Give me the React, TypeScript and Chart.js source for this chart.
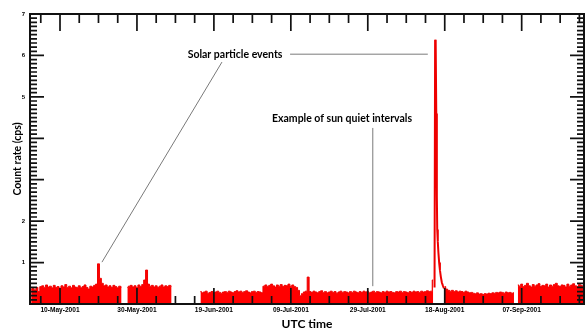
import React, { useEffect, useRef } from 'react';
import { Chart, registerables } from 'chart.js';

Chart.register(...registerables);

// ---- axis data (x = days since 10-May-2001) ----
const X_MIN = -7.8;
const X_MAX = 136.2;
const xTickDays = [0, 20, 40, 60, 80, 100, 120];
const xTickLabels = ['10-May-2001', '30-May-2001', '19-Jun-2001', '09-Jul-2001', '29-Jul-2001', '18-Aug-2001', '07-Sep-2001'];
const yTickLabels = ['', '1', '2', '', '', '5', '6', '7'];

// ---- count-rate series, sampled every half day ----
const SAMPLE_STEP = 0.5;

const segAStart = -7.5;
const segA = [
  0.36, 0.38, 0.34, 0.40, 0.30, 0.42, 0.44, 0.40, 0.46, 0.41,
  0.43, 0.39, 0.45, 0.40, 0.42, 0.38, 0.44, 0.41, 0.47, 0.40,
  0.43, 0.39, 0.45, 0.41, 0.40, 0.44, 0.39, 0.42, 0.46, 0.40,
  0.36, 0.43, 0.41, 0.45, 0.48, 0.97, 0.62, 0.50, 0.44, 0.46,
  0.41, 0.44, 0.40, 0.45, 0.42, 0.39, 0.43, 0.41,
];

const segBStart = 17.5;
const segB = [
  0.40, 0.43, 0.45, 0.41, 0.44, 0.40, 0.46, 0.42, 0.47, 0.58,
  0.82, 0.48, 0.43, 0.45, 0.41, 0.44, 0.40, 0.43, 0.46, 0.41,
  0.44, 0.42, 0.45, 0.43,
];

const segCStart = 36.5;
const segC = [
  0.30, 0.27, 0.29, 0.31, 0.26, 0.28, 0.30, 0.27, 0.29, 0.31,
  0.28, 0.26, 0.29, 0.30, 0.28, 0.31, 0.29, 0.27, 0.30, 0.32,
  0.29, 0.31, 0.28, 0.30, 0.32, 0.29, 0.27, 0.30, 0.31, 0.28,
  0.30, 0.29, 0.27,
];

const segDStart = 53.0;
const segD = [
  0.43, 0.46, 0.42, 0.45, 0.48, 0.44, 0.41, 0.46, 0.43, 0.47,
  0.42, 0.45, 0.44, 0.48, 0.43, 0.46, 0.42, 0.40, 0.33,
];

const segEStart = 62.5;
const segE = [
  0.20, 0.25, 0.29, 0.31, 0.65, 0.30, 0.28, 0.31, 0.29, 0.27,
  0.30, 0.32, 0.28, 0.30, 0.27, 0.29, 0.31, 0.28, 0.30, 0.26,
  0.29, 0.31, 0.28, 0.30, 0.29, 0.27, 0.30, 0.28, 0.31, 0.29,
  0.27, 0.30, 0.28, 0.31, 0.29, 0.30, 0.27, 0.29, 0.31, 0.28,
  0.30, 0.29, 0.27, 0.30, 0.28, 0.31, 0.29, 0.30, 0.28, 0.27,
  0.30, 0.29, 0.31, 0.28, 0.30, 0.29, 0.27, 0.30, 0.28, 0.31,
  0.29, 0.30, 0.28, 0.31, 0.29, 0.30, 0.32, 0.30, 0.31, 0.58,
];

const segFStart = 100.0;
const segF = [
  0.42, 0.36, 0.33, 0.31, 0.33, 0.30, 0.32, 0.29, 0.31, 0.30,
  0.28, 0.31, 0.29, 0.27, 0.28, 0.26, 0.25, 0.27, 0.24, 0.25,
  0.23, 0.25, 0.24, 0.26, 0.25, 0.27, 0.26, 0.28, 0.27, 0.29,
  0.28, 0.26, 0.29, 0.27, 0.28, 0.26, 0.27,
];

const segGStart = 119.0;
const segG = [
  0.46, 0.43, 0.48, 0.42, 0.45, 0.50, 0.44, 0.41, 0.47, 0.43,
  0.46, 0.49, 0.42, 0.45, 0.44, 0.48, 0.41, 0.46, 0.43, 0.47,
  0.50, 0.44, 0.42, 0.46, 0.45, 0.41, 0.48, 0.43, 0.46, 0.49,
  0.44, 0.42, 0.47, 0.45, 0.43, 0.46,
];

// solar particle event of mid-August (finer sampling)
const spikeDays = [97.35, 97.5, 97.65, 97.8, 97.95, 98.05, 98.2, 98.35, 98.55, 98.75, 99.0, 99.25, 99.5, 99.8];
const spikeVals = [0.40, 6.38, 6.30, 4.6, 2.6, 1.8, 1.5, 1.25, 1.0, 0.82, 0.65, 0.52, 0.45, 0.38];

// ---- annotations (in data coordinates) ----
const noteSolar = { text: 'Solar particle events', day: 45.5, value: 6.03 };
const noteSolarLineH = { d1: 59.8, v1: 6.03, d2: 95.6, v2: 6.03 };
const noteSolarLineD = { d1: 42.1, v1: 5.84, d2: 10.9, v2: 1.01 };
const noteQuiet = { text: 'Example of sun quiet intervals', day: 73.3, value: 4.47 };
const noteQuietLine = { d1: 81.3, v1: 4.25, d2: 81.3, v2: 0.43 };

const segments: [number, number[]][] = [
  [segAStart, segA], [segBStart, segB], [segCStart, segC], [segDStart, segD],
  [segEStart, segE], [segFStart, segF], [segGStart, segG],
];

function buildSeries() {
  const pts: { x: number; y: number | null }[] = [];
  let lastX: number | null = null;
  for (const [start, vals] of segments) {
    if (lastX !== null && start - lastX > SAMPLE_STEP * 1.5) {
      pts.push({ x: (lastX + start) / 2, y: null });
    }
    vals.forEach((v, i) => pts.push({ x: start + i * SAMPLE_STEP, y: v }));
    lastX = start + (vals.length - 1) * SAMPLE_STEP;
  }
  return pts;
}

const frameTicksPlugin = {
  id: 'frameTicks',
  afterDatasetsDraw(chart: any) {
    const { ctx, chartArea, scales } = chart;
    const { left, right, top, bottom } = chartArea;
    const x = scales.x;
    const y = scales.y;
    ctx.save();
    ctx.strokeStyle = '#111';
    ctx.lineWidth = 1.7;
    ctx.beginPath();
    for (let k = -2; k <= 28; k++) {
      const px = x.getPixelForValue(k * 5);
      if (px < left + 1 || px > right - 1) continue;
      const major = k % 4 === 0;
      ctx.moveTo(px, bottom);
      ctx.lineTo(px, bottom - (major ? 16 : 8));
      ctx.moveTo(px, top);
      ctx.lineTo(px, top + (major ? 17 : 9));
    }
    for (let k = 0; k <= 70; k++) {
      const py = y.getPixelForValue(k / 10);
      const major = k % 10 === 0;
      ctx.moveTo(left, py);
      ctx.lineTo(left + (major ? 14 : 7), py);
      ctx.moveTo(right, py);
      ctx.lineTo(right - (major ? 14 : 7), py);
    }
    ctx.stroke();
    ctx.lineWidth = 2;
    ctx.strokeRect(left, top, right - left, bottom - top);
    ctx.restore();
  },
};

const annotationPlugin = {
  id: 'notes',
  afterDraw(chart: any) {
    const { ctx, scales } = chart;
    const X = (d: number) => scales.x.getPixelForValue(d);
    const Y = (v: number) => scales.y.getPixelForValue(v);
    ctx.save();
    ctx.strokeStyle = '#7a7a7a';
    ctx.lineWidth = 1;
    ctx.beginPath();
    for (const l of [noteSolarLineH, noteSolarLineD, noteQuietLine]) {
      ctx.moveTo(X(l.d1), Y(l.v1));
      ctx.lineTo(X(l.d2), Y(l.v2));
    }
    ctx.stroke();
    ctx.fillStyle = '#000';
    ctx.font = 'bold 10.5px Lato, "Open Sans", sans-serif';
    ctx.textAlign = 'center';
    ctx.textBaseline = 'middle';
    ctx.fillText(noteSolar.text, X(noteSolar.day), Y(noteSolar.value));
    ctx.fillText(noteQuiet.text, X(noteQuiet.day), Y(noteQuiet.value));
    ctx.restore();
  },
};

export default function App() {
  const ref = useRef<HTMLCanvasElement | null>(null);
  useEffect(() => {
    if (!ref.current) return;
    const chart = new Chart(ref.current, {
      type: 'line',
      data: {
        datasets: [
          {
            data: buildSeries() as any,
            borderColor: '#ee0000',
            backgroundColor: '#ff0000',
            borderWidth: 1,
            pointRadius: 0,
            fill: 'origin',
            stepped: 'middle',
            spanGaps: false,
          },
          {
            data: spikeDays.map((d, i) => ({ x: d, y: spikeVals[i] })) as any,
            borderColor: '#ee0000',
            borderWidth: 2,
            pointRadius: 0,
            fill: false,
            tension: 0,
          },
        ],
      },
      options: {
        responsive: false,
        animation: false,
        layout: { padding: { top: 14, right: 2, left: 0, bottom: 0 } },
        plugins: { legend: { display: false }, tooltip: { enabled: false } },
        scales: {
          x: {
            type: 'linear',
            min: X_MIN,
            max: X_MAX,
            afterFit: (s: any) => { s.height = 25; },
            grid: { display: false, drawTicks: false },
            border: { display: false },
            ticks: {
              stepSize: 20,
              includeBounds: false,
              autoSkip: false,
              maxRotation: 0,
              padding: 2,
              color: '#000',
              font: { family: 'Arial, "Liberation Sans", sans-serif', weight: 'bold', size: 6.6 },
              callback: (v: any) => {
                const i = xTickDays.indexOf(Number(v));
                return i >= 0 ? xTickLabels[i] : '';
              },
            },
            title: {
              display: true,
              text: 'UTC time',
              color: '#000',
              font: { family: 'Lato, "Open Sans", sans-serif', weight: 'bold', size: 12 },
              padding: { top: 0, bottom: -2 },
            },
          },
          y: {
            min: 0,
            max: 7,
            afterFit: (s: any) => { s.width = 30; },
            grid: { display: false, drawTicks: false },
            border: { display: false },
            ticks: {
              stepSize: 1,
              padding: 5,
              color: '#000',
              font: { family: 'Arial, "Liberation Sans", sans-serif', weight: 'bold', size: 6 },
              callback: (v: any) => yTickLabels[Number(v)] ?? '',
            },
            title: {
              display: true,
              text: 'Count rate (cps)',
              color: '#000',
              font: { family: 'Lato, "Open Sans", sans-serif', weight: 'bold', size: 10.5 },
              padding: { top: 11, bottom: 0 },
            },
          },
        },
      },
      plugins: [frameTicksPlugin, annotationPlugin],
    });
    return () => chart.destroy();
  }, []);
  return (
    <div style={{ position: 'fixed', left: 0, top: 0, width: 586, height: 329, background: '#fff' }}>
      <canvas ref={ref} width={586} height={329} style={{ display: 'block' }} />
    </div>
  );
}
